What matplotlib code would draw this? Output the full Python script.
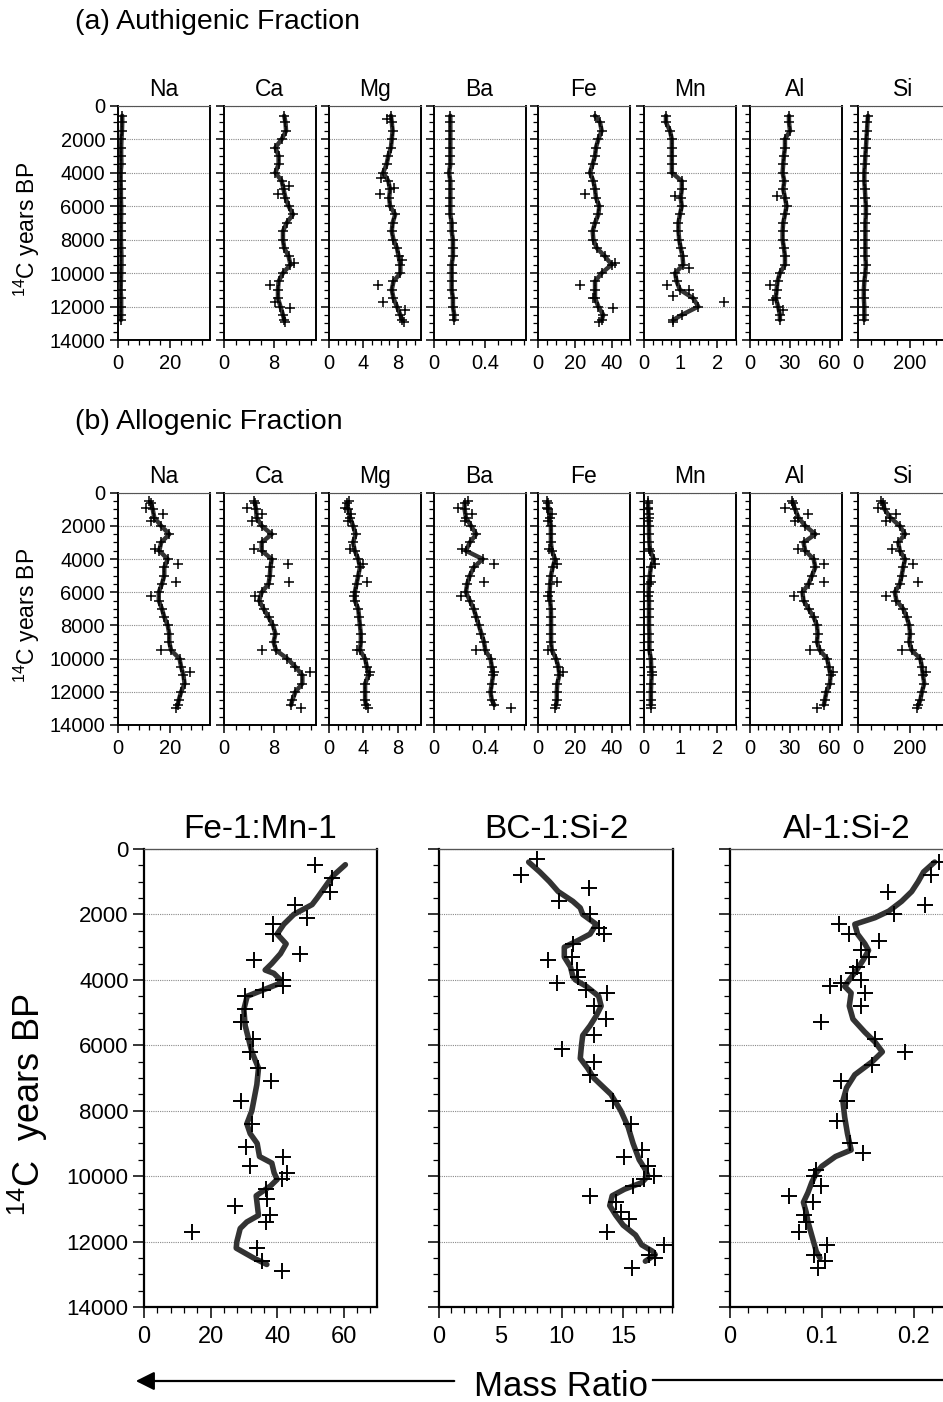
import matplotlib
matplotlib.use("Agg")
import matplotlib.pyplot as plt
from matplotlib.ticker import FixedLocator, FixedFormatter, MultipleLocator, NullFormatter
from matplotlib.patches import FancyArrowPatch
from matplotlib.lines import Line2D

plt.rcParams['font.family'] = ['Liberation Sans', 'DejaVu Sans']
plt.rcParams['mathtext.default'] = 'regular'

# ---------------- data ----------------
elements = ['Na', 'Ca', 'Mg', 'Ba', 'Fe', 'Mn', 'Al', 'Si']
x_max = [35, 14.7, 10.7, 0.71, 50, 2.5, 69, 350]
x_ticks = [[0, 20], [0, 8], [0, 4, 8], [0, 0.4], [0, 20, 40], [0, 1, 2], [0, 30, 60], [0, 200]]
x_ticklabels = [['0', '20'], ['0', '8'], ['0', '4', '8'], ['0', '0.4'], ['0', '20', '40'],
                ['0', '1', '2'], ['0', '30', '60'], ['0', '200']]
x_minor = [4, 2, 1, 0.1, 5, 0.25, 6, 50]
age_ticks = [0, 2000, 4000, 6000, 8000, 10000, 12000, 14000]
age_ticklabels = ['0', '2000', '4000', '6000', '8000', '10000', '12000', '14000']

age_line = [600, 1000, 1500, 2000, 2500, 3000, 3500, 4000, 4500, 5000, 5500, 6000, 6500,
            7000, 7500, 8000, 8500, 9000, 9500, 10000, 10500, 11000, 11500, 12000, 12500, 12800]

# (a) authigenic fraction
a_Na = [1.8, 1.8, 1.7, 1.5, 1.4, 1.4, 1.5, 1.2, 1.2, 1.3, 1.3, 1.4, 1.4, 1.3, 1.3, 1.3, 1.4, 1.5, 1.5, 1.4, 1.3, 1.2, 1.4, 1.4, 1.4, 1.3]
a_Ca = [9.7, 9.9, 10.0, 9.3, 8.3, 8.8, 8.8, 8.3, 9.3, 9.6, 9.9, 10.4, 11.1, 10.1, 9.5, 9.5, 9.7, 10.4, 10.7, 9.5, 8.8, 8.7, 8.7, 9.1, 9.5, 9.7]
a_Mg = [7.2, 7.3, 7.4, 7.3, 7.2, 6.9, 6.7, 6.3, 6.9, 7.1, 7.0, 7.1, 7.7, 7.4, 7.3, 7.5, 7.9, 8.1, 8.3, 8.3, 7.5, 7.3, 7.5, 7.9, 8.3, 8.5]
a_Ba = [0.13, 0.13, 0.13, 0.13, 0.13, 0.13, 0.13, 0.12, 0.13, 0.13, 0.13, 0.13, 0.13, 0.14, 0.14, 0.15, 0.15, 0.15, 0.14, 0.14, 0.14, 0.14, 0.15, 0.15, 0.16, 0.16]
a_Fe = [31, 33.7, 34.6, 32.8, 31.5, 31, 29.7, 28.3, 30.1, 31, 31.5, 33.3, 32.8, 31, 29.7, 30.1, 31.9, 36.4, 40, 34.6, 31, 31, 31, 32.8, 35.5, 34.6]
a_Mn = [0.61, 0.61, 0.72, 0.77, 0.77, 0.77, 0.77, 0.77, 1.04, 1.04, 1.01, 1.04, 0.99, 0.95, 0.95, 0.97, 1.01, 1.06, 1.08, 0.86, 0.90, 0.99, 1.35, 1.49, 1.04, 0.81]
a_Al = [29.6, 29.6, 30.4, 26.6, 26.6, 25.8, 25.3, 24.8, 26.1, 25.3, 26.6, 27.8, 26.6, 25.3, 24.8, 24.8, 25.8, 26.6, 26.6, 22.8, 21.0, 20.3, 19.7, 21.5, 22.8, 22.8]
a_Si = [40, 38, 36, 34, 32, 30, 28, 26, 26, 28, 30, 32, 32, 30, 30, 30, 30, 30, 32, 30, 26, 24, 24, 26, 26, 26]

a_Na_out_age, a_Na_out = [], []
a_Ca_out_age = [4800, 5300, 9400, 10700, 11700, 12100, 12900]
a_Ca_out = [10.4, 8.7, 11.2, 7.4, 8.3, 10.7, 9.9]
a_Mg_out_age = [800, 4300, 4900, 5300, 9200, 10700, 11700, 12200, 12900]
a_Mg_out = [6.7, 6.1, 7.6, 5.9, 8.5, 5.7, 6.3, 8.8, 8.7]
a_Ba_out_age, a_Ba_out = [], []
a_Fe_out_age = [5300, 9400, 10700, 11500, 12100, 12900]
a_Fe_out = [25.6, 41.8, 22.9, 29.7, 40.5, 33.3]
a_Mn_out_age = [5400, 9700, 10700, 11000, 11400, 11700, 12900]
a_Mn_out = [0.86, 1.23, 0.63, 1.23, 0.81, 2.18, 0.79]
a_Al_out_age = [5400, 10700, 11600, 12200]
a_Al_out = [20.3, 15.2, 17.7, 25.3]
a_Si_out_age, a_Si_out = [], []

# (b) allogenic fraction
b_Na = [12.7, 13.4, 14.0, 16.6, 19.7, 16.6, 15.9, 19.1, 17.8, 17.8, 16.9, 15.7, 15.7, 16.9, 17.8, 19.1, 19.7, 19.7, 20.4, 23.6, 24.2, 25.1, 25.5, 24.2, 23.3, 22.9]
b_Ca = [5.0, 5.2, 5.3, 6.1, 7.7, 6.1, 6.1, 7.7, 7.5, 7.4, 7.2, 6.1, 5.7, 6.4, 7.2, 7.9, 8.3, 8.0, 8.4, 10.2, 11.5, 12.6, 12.6, 11.5, 11.0, 10.8]
b_Mg = [2.1, 2.25, 2.45, 2.8, 3.1, 2.8, 3.0, 3.4, 3.6, 3.4, 3.2, 3.0, 3.0, 3.4, 3.5, 3.6, 3.7, 3.7, 3.6, 4.2, 4.4, 4.6, 4.2, 4.2, 4.2, 4.3]
b_Ba = [0.24, 0.24, 0.25, 0.29, 0.33, 0.28, 0.25, 0.38, 0.31, 0.28, 0.26, 0.25, 0.28, 0.31, 0.33, 0.35, 0.37, 0.39, 0.40, 0.44, 0.45, 0.46, 0.45, 0.44, 0.45, 0.47]
b_Fe = [5.2, 5.7, 6.3, 7.0, 7.0, 7.0, 7.5, 9.3, 8.0, 7.0, 6.6, 6.3, 6.6, 7.0, 7.1, 7.1, 7.1, 7.1, 7.5, 9.8, 11.1, 11.6, 10.5, 10.2, 10.2, 9.8]
b_Mn = [0.12, 0.13, 0.14, 0.15, 0.15, 0.16, 0.18, 0.28, 0.20, 0.17, 0.15, 0.14, 0.15, 0.15, 0.15, 0.15, 0.16, 0.16, 0.16, 0.20, 0.21, 0.22, 0.21, 0.20, 0.20, 0.20]
b_Al = [32.4, 34.2, 36.7, 41.8, 49.4, 40.5, 41.8, 48.1, 49.4, 46.8, 44.3, 39.7, 40.5, 44.3, 48.1, 50.6, 51.1, 50.6, 52.7, 58.2, 59.5, 60.8, 60.3, 57.7, 56.5, 55.7]
b_Si = [97, 103, 125, 161, 181, 155, 161, 181, 174, 168, 161, 142, 148, 174, 187, 197, 200, 197, 206, 239, 245, 249, 254, 245, 239, 232]

b_out_age = [500, 900, 1300, 1700, 3400, 4300, 5400, 6200, 9500, 10800, 13000]
b_Na_out = [12.1, 10.8, 17.2, 12.7, 14.4, 22.9, 22.3, 12.7, 16.6, 27.4, 22.3]
b_Ca_out = [4.8, 3.7, 6.1, 4.5, 4.8, 10.3, 10.4, 5.0, 6.1, 13.9, 12.4]
b_Mg_out = [2.3, 1.9, 2.6, 2.25, 2.4, 3.9, 4.4, 2.9, 3.2, 4.8, 4.5]
b_Ba_out = [0.27, 0.19, 0.30, 0.24, 0.22, 0.47, 0.39, 0.21, 0.33, 0.47, 0.60]
b_Fe_out = [5.0, 4.8, 7.5, 5.5, 6.0, 10.5, 10.5, 5.5, 5.7, 13.8, 9.0]
b_Mn_out = [0.12, 0.12, 0.15, 0.13, 0.14, 0.30, 0.20, 0.13, 0.14, 0.24, 0.20]
b_Al_out = [31.6, 26.6, 43.5, 34.2, 36.7, 56.2, 56.2, 33.7, 45.1, 62.8, 50.6]
b_Si_out = [90, 77, 148, 110, 133, 213, 232, 110, 168, 262, 226]

# bottom: mass ratios
fe_line_age = [480, 800, 1000, 1500, 1700, 2000, 2300, 2600, 2900, 3200, 3500, 3700, 3800, 4000, 4100,
               4300, 4500, 4900, 5400, 5800, 6200, 6700, 7200, 8000, 8400, 8700, 9000, 9400, 9600, 9900,
               10100, 10300, 10600, 11200, 11400, 11600, 12000, 12200, 12500, 12700]
fe_line = [60.5, 57, 55.5, 52, 50.5, 45, 42, 40, 42.7, 41, 38.4, 36.4, 39, 41, 41,
           36, 31, 30, 30.4, 31.4, 32.4, 34.4, 33.9, 32.4, 30.9, 31.9, 34, 34.7, 38.4, 39.1,
           40, 38, 33.7, 34.4, 30.9, 28.9, 27.9, 27.7, 32.9, 36.9]
fe_pts_age = [480, 900, 1300, 1700, 2100, 2300, 2600, 3200, 3400, 4000, 4200, 4300, 4500, 4900, 5300,
              5800, 6200, 6700, 7100, 7700, 8400, 9100, 9400, 9700, 9900, 10100, 10400, 10700, 10900,
              11200, 11400, 11700, 12200, 12600, 12900]
fe_pts = [51.5, 56.5, 56, 45.4, 49.1, 38.7, 38.9, 46.9, 33.1, 41.7, 41.9, 35.9, 30.4, 30.4, 29.1,
          32.7, 31.7, 34.1, 38.1, 29.1, 32.4, 30.7, 41.7, 31.7, 43.1, 41.4, 36.7, 36.9, 27.4,
          37.9, 36.6, 14.3, 33.9, 35.4, 41.4]

bc_line_age = [400, 700, 1000, 1300, 1600, 1800, 2000, 2300, 2600, 2800, 3000, 3300, 3600, 3900, 4000,
               4200, 4500, 4800, 5100, 5400, 5700, 6000, 6400, 6700, 7000, 7500, 8000, 8500, 9000, 9500,
               9800, 10000, 10200, 10400, 10600, 10900, 11200, 11500, 11800, 12100, 12300, 12400, 12600]
bc_line = [7.3, 8.2, 9.0, 9.7, 10.9, 11.5, 11.7, 12.8, 12.3, 11.3, 10.2, 10.2, 10.7, 10.9, 11.1,
           12.0, 13.0, 13.2, 12.8, 12.3, 11.7, 11.6, 11.5, 12.1, 12.6, 14.0, 14.8, 15.4, 15.8, 16.3,
           16.8, 17.0, 16.5, 15.1, 14.1, 13.9, 14.4, 15.0, 16.0, 16.5, 17.4, 17.6, 16.8]
bc_pts_age = [300, 800, 1200, 1600, 2000, 2400, 2600, 2900, 3300, 3400, 3700, 3900, 4100, 4300, 4400,
              4800, 5200, 5700, 6100, 6500, 6900, 7700, 8400, 9200, 9400, 9700, 10000, 10100, 10300,
              10600, 10800, 11100, 11300, 11700, 12100, 12400, 12500, 12800]
bc_pts = [8.0, 6.7, 12.2, 9.8, 12.3, 13.0, 13.4, 10.9, 10.8, 8.9, 11.2, 11.3, 9.6, 12.0, 13.7,
          12.6, 13.6, 12.6, 10.0, 12.6, 12.3, 14.2, 15.6, 16.5, 15.1, 17.0, 17.5, 16.7, 15.8,
          12.3, 14.4, 14.8, 15.5, 13.7, 18.3, 17.1, 17.6, 15.7]

al_line_age = [400, 700, 1000, 1300, 1600, 1900, 2100, 2300, 2600, 2900, 3100, 3400, 3700, 4000, 4200,
               4400, 4800, 5200, 5600, 5900, 6200, 6500, 6900, 7300, 7700, 8200, 8700, 9200, 9400, 9700,
               9900, 10200, 10500, 10800, 11100, 11400, 11700, 12000, 12300, 12500]
al_line = [0.223, 0.211, 0.205, 0.198, 0.187, 0.173, 0.158, 0.136, 0.139, 0.147, 0.151, 0.145, 0.138, 0.130, 0.125,
           0.132, 0.130, 0.134, 0.147, 0.158, 0.166, 0.155, 0.136, 0.127, 0.123, 0.125, 0.128, 0.132, 0.115, 0.100,
           0.094, 0.089, 0.085, 0.080, 0.083, 0.085, 0.088, 0.091, 0.094, 0.098]
al_pts_age = [400, 800, 1300, 1700, 2000, 2300, 2600, 2800, 3100, 3300, 3600, 3800, 4000, 4100, 4200,
              4400, 4800, 5300, 5800, 6200, 6600, 7100, 7700, 8300, 9000, 9300, 9800, 10000, 10300,
              10600, 10800, 11200, 11400, 11700, 12100, 12400, 12600, 12800]
al_pts = [0.228, 0.219, 0.172, 0.213, 0.179, 0.119, 0.130, 0.162, 0.143, 0.151, 0.138, 0.134, 0.143, 0.121, 0.109,
          0.147, 0.143, 0.099, 0.158, 0.191, 0.155, 0.121, 0.128, 0.117, 0.131, 0.145, 0.094, 0.091, 0.099,
          0.064, 0.090, 0.081, 0.083, 0.075, 0.106, 0.092, 0.104, 0.096]

ratio_titles = ['Fe-1:Mn-1', 'BC-1:Si-2', 'Al-1:Si-2']
ratio_xmax = [70, 19.05, 0.255]
ratio_ticks = [[0, 20, 40, 60], [0, 5, 10, 15], [0, 0.1, 0.2]]
ratio_ticklabels = [['0', '20', '40', '60'], ['0', '5', '10', '15'], ['0', '0.1', '0.2']]
ratio_minor = [4, 1, 0.02]

# ---------------- figure ----------------
W, H = 943, 1402
fig = plt.figure(figsize=(W / 100, H / 100), dpi=100)


def add_ax(left, top, width, height):
    return fig.add_axes([left / W, 1 - (top + height) / H, width / W, height / H])


LINE_C = '#333333'


def style_axes(ax, xmax, ticks, ticklabels, minor, show_ylab, yfs, xfs,
               majlen, minlen, spine_lw, xpad, ypad):
    ax.set_ylim(14000, 0)
    ax.set_xlim(0, xmax)
    ax.yaxis.set_major_locator(FixedLocator(age_ticks))
    ax.yaxis.set_minor_locator(MultipleLocator(500))
    if show_ylab:
        ax.yaxis.set_major_formatter(FixedFormatter(age_ticklabels))
    else:
        ax.yaxis.set_major_formatter(NullFormatter())
    ax.xaxis.set_major_locator(FixedLocator(ticks))
    ax.xaxis.set_major_formatter(FixedFormatter(ticklabels))
    ax.xaxis.set_minor_locator(MultipleLocator(minor))
    ax.tick_params(axis='both', which='major', direction='out', length=majlen, width=1.1)
    ax.tick_params(axis='both', which='minor', direction='out', length=minlen, width=0.9)
    ax.tick_params(axis='y', labelsize=yfs, pad=ypad)
    ax.tick_params(axis='x', labelsize=xfs, pad=xpad)
    ax.grid(axis='y', which='major', color='#8a8a8a', lw=0.8, ls=(0, (1, 1)))
    ax.set_axisbelow(True)
    for s in ax.spines.values():
        s.set_linewidth(spine_lw)
    ax.spines['top'].set_linewidth(spine_lw * 0.6)
    ax.spines['top'].set_color('#555555')


small_left = [117.5, 223.5, 329, 433.5, 538, 643.5, 749.5, 857.5]
small_w = 92

rows = [
    dict(top=105.7, h=234.3, label='(a) Authigenic Fraction', label_y=22, ylab_y=229,
         lines=[a_Na, a_Ca, a_Mg, a_Ba, a_Fe, a_Mn, a_Al, a_Si],
         out_age=[a_Na_out_age, a_Ca_out_age, a_Mg_out_age, a_Ba_out_age,
                  a_Fe_out_age, a_Mn_out_age, a_Al_out_age, a_Si_out_age],
         out_val=[a_Na_out, a_Ca_out, a_Mg_out, a_Ba_out, a_Fe_out, a_Mn_out, a_Al_out, a_Si_out]),
    dict(top=492.7, h=232.3, label='(b) Allogenic Fraction', label_y=422, ylab_y=615,
         lines=[b_Na, b_Ca, b_Mg, b_Ba, b_Fe, b_Mn, b_Al, b_Si],
         out_age=[b_out_age] * 8,
         out_val=[b_Na_out, b_Ca_out, b_Mg_out, b_Ba_out, b_Fe_out, b_Mn_out, b_Al_out, b_Si_out]),
]

for row in rows:
    fig.text(75 / W, 1 - row['label_y'] / H, row['label'], fontsize=20.5, ha='left', va='center')
    fig.text(27 / W, 1 - row['ylab_y'] / H, r'$^{14}$C years BP', fontsize=16.5,
             rotation=90, ha='center', va='center')
    for i, el in enumerate(elements):
        ax = add_ax(small_left[i], row['top'], small_w, row['h'])
        ax.plot(row['lines'][i], age_line, color=LINE_C, lw=3.2, solid_capstyle='round',
                solid_joinstyle='round', zorder=3)
        ax.plot(row['lines'][i], age_line, ls='none', marker='+', ms=7, mew=1.1,
                color='black', zorder=4)
        ax.plot(row['out_val'][i], row['out_age'][i], ls='none', marker='+', ms=7, mew=1.1,
                color='black', zorder=4)
        style_axes(ax, x_max[i], x_ticks[i], x_ticklabels[i], x_minor[i], i == 0,
                   14.5, 14.5, 6, 3.5, 1.4, 4, 3)
        ax.set_title(el, fontsize=16.5, pad=7)

# bottom row
big_left = [144, 439, 730]
big_w = [233, 234, 234]
big_lines = [fe_line, bc_line, al_line]
big_line_age = [fe_line_age, bc_line_age, al_line_age]
big_pts = [fe_pts, bc_pts, al_pts]
big_pts_age = [fe_pts_age, bc_pts_age, al_pts_age]

for i in range(3):
    ax = add_ax(big_left[i], 849, big_w[i], 458)
    ax.plot(big_lines[i], big_line_age[i], color=LINE_C, lw=4.0, solid_capstyle='round',
            solid_joinstyle='round', zorder=3)
    ax.plot(big_pts[i], big_pts_age[i], ls='none', marker='+', ms=11, mew=1.4,
            color='black', zorder=4)
    style_axes(ax, ratio_xmax[i], ratio_ticks[i], ratio_ticklabels[i], ratio_minor[i], i == 0,
               16, 17, 8, 4.5, 1.6, 6, 3)
    ax.set_title(ratio_titles[i], fontsize=24, pad=8)

fig.text(28 / W, 1 - 1105 / H, r'$^{14}$C  years BP', fontsize=26, rotation=90,
         ha='center', va='center')

# Mass Ratio label with arrow
fig.text(561 / W, 1 - 1386 / H, 'Mass Ratio', fontsize=25, ha='center', va='center')
arrow = FancyArrowPatch((457 / W, 1 - 1381 / H), (133 / W, 1 - 1381 / H),
                        transform=fig.transFigure, arrowstyle='-|>', mutation_scale=28,
                        lw=1.6, color='black')
fig.add_artist(arrow)
fig.add_artist(Line2D([653 / W, 1.0], [1 - 1380 / H, 1 - 1380 / H], transform=fig.transFigure,
                      color='black', lw=1.6))

fig.savefig('out.png', dpi=100)
